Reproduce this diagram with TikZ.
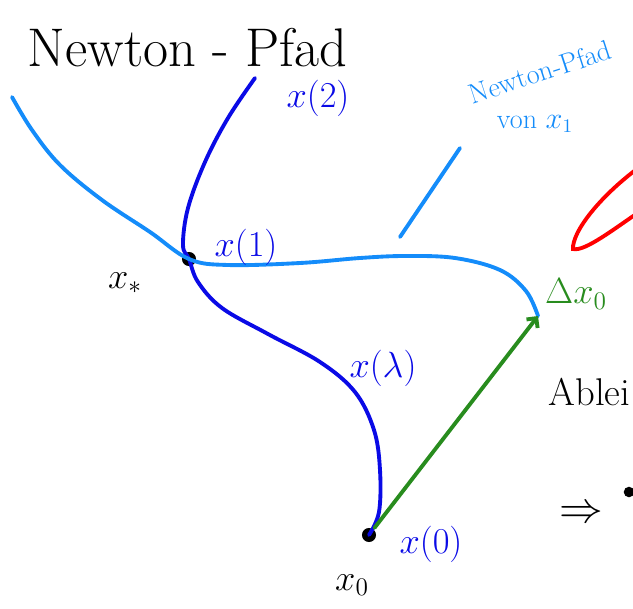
\documentclass[tikz,border=0pt]{standalone}
\usepackage{amsmath, amssymb}
\usepackage{xcolor}
\usepackage{tikz}
\usetikzlibrary{calc, positioning, arrows.meta}

\definecolor{dunkelblau}{RGB}{10,10,230}
\definecolor{hellblau}{RGB}{20,140,250}
\definecolor{gruen}{RGB}{40,140,30}

\begin{document}
\begin{tikzpicture}[x=0.02cm, y=-0.02cm, line width=2.2pt, line cap=round, >={Straight Barb[length=4pt]},
    gross/.style={font=\fontsize{31}{35}\selectfont},
    klein/.style={font=\fontsize{20}{24}\selectfont},
    punkt/.style={circle, fill=black, inner sep=0pt, minimum size=8pt}]
    \useasboundingbox (0,0) rectangle (633,609);
    \clip (0,0) rectangle (633,609);

    % Titel
    \node[gross, anchor=base west] (titel) at (20,66) {Newton - Pfad};

    % Punkte
    \node[punkt] (x0) at (369,535) {};
    \node[punkt] (xs) at (189,259) {};
    \coordinate (x1) at (538,316);

    % Newton-Pfad x(lambda)
    \draw[dunkelblau] plot[smooth, tension=0.6] coordinates {
        (255,78) (228,118) (205,162) (188,208) (183,245) (189,259) (198,282)
        (222,308) (268,334) (320,362) (355,392) (374,430) (380,470) (379,512) (x0)};

    % Newton-Pfad von x_1
    \draw[hellblau] plot[smooth, tension=0.6] coordinates {
        (12,97) (32,130) (60,165) (102,200) (150,232) (189,259) (228,265)
        (300,263) (360,258) (405,256) (455,258) (500,270) (526,291) (x1)};
    \draw[hellblau] (400,237) -- (460,148);

    % Schritt
    \draw[gruen, ->] (x0) -- (x1);

    % Rest rechts
    \draw[red] (645,163) .. controls (600,195) and (572,232) .. (573,249)
        .. controls (585,252) and (615,228) .. (645,208);

    % Beschriftungen
    \node[klein, text=dunkelblau] (lzwei) at (318,98) {$x(2)$};
    \node[klein, text=dunkelblau] (leins) at (246,247) {$x(1)$};
    \node[klein, text=dunkelblau] (llam) at (383,368) {$x(\lambda)$};
    \node[klein, text=dunkelblau] (lnull) at (431,544) {$x(0)$};
    \node[klein] (lstern) at (125,283) {$x_*$};
    \node[klein] (lxnull) at (352,585) {$x_0$};
    \node[klein, text=gruen] (ldelta) at (576,294) {$\Delta x_0$};
    \node[font=\fontsize{16}{18}\selectfont, text=hellblau, rotate=18] (lpfad) at (540,72) {Newton-Pfad};
    \node[font=\fontsize{16}{18}\selectfont, text=hellblau] (lvon) at (535,124) {von $x_1$};
    \node[font=\fontsize{22}{26}\selectfont, anchor=base west] (lablei) at (541,405) {Ablei};
    \node[gross, anchor=base west] (lfolgt) at (552,522) {$\Rightarrow$};
    \node[punkt, minimum size=6pt] (rest) at (629,492) {};
\end{tikzpicture}
\end{document}
